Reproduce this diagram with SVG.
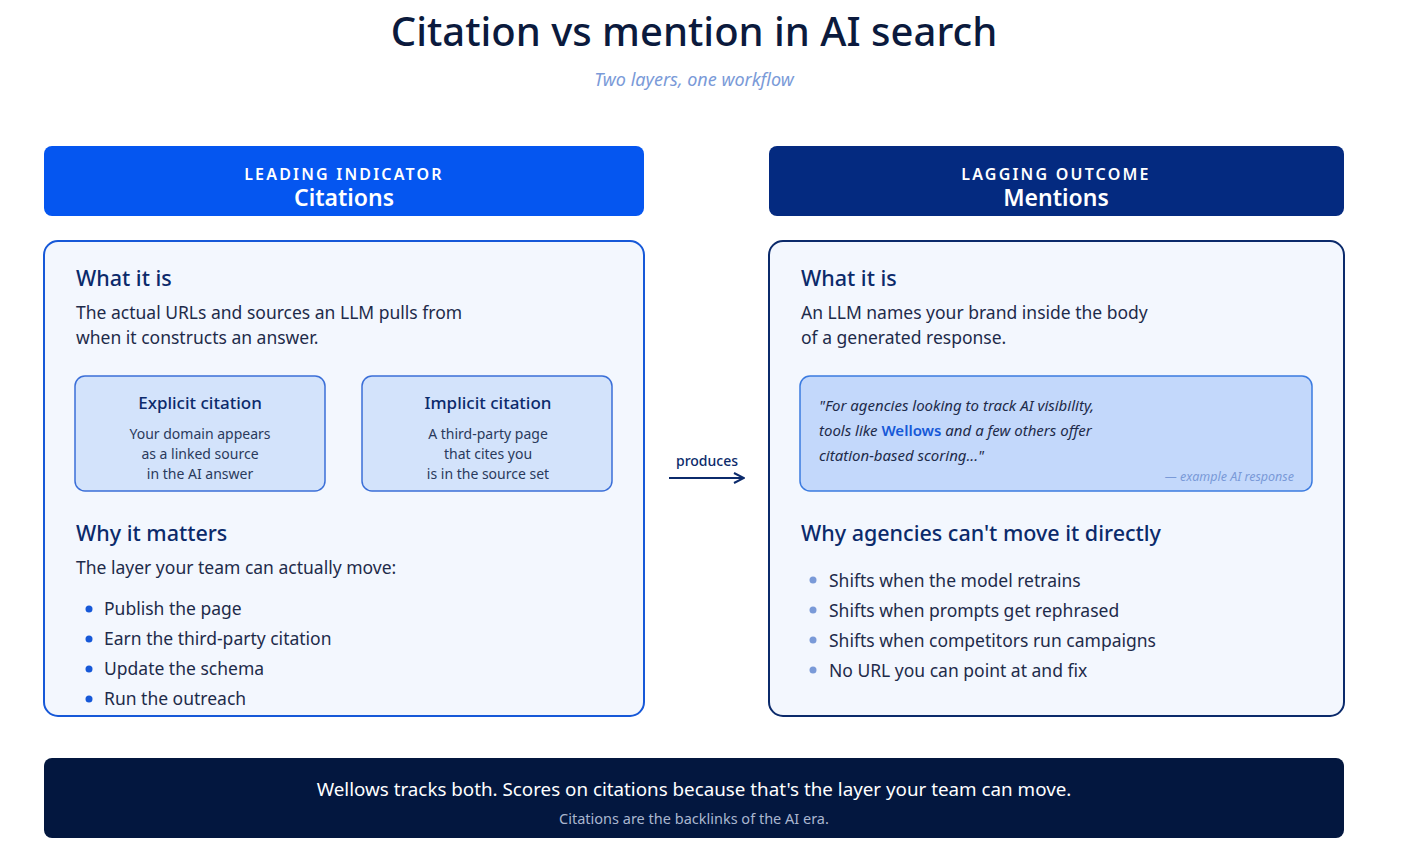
<svg xmlns="http://www.w3.org/2000/svg" width="1422" height="852" viewBox="0 0 1422 852">
<style>
text{font-family:"Noto Sans","Open Sans","Liberation Sans",sans-serif}
.hd{fill:#fff;text-anchor:middle}
.cap{font-size:16px;letter-spacing:2.2px;font-weight:600}
.big{font-size:23px;font-weight:600}
.card{fill:#f3f7fe;stroke-width:2}
.h2{font-size:21.5px;font-weight:500;fill:#0b2a6b}
.body{font-size:17.5px;fill:#1e2b4a}
.sub{fill:#d3e3fb;stroke:#3b6fd8;stroke-width:1.5}
.st{font-size:17px;font-weight:500;fill:#0b2a6b;text-anchor:middle}
.sd{font-size:14px;fill:#2a3a5c;text-anchor:middle}
.q{font-size:15px;font-style:italic;fill:#1e2b4a}
</style>
<defs><marker id="ar" viewBox="0 0 12 12" refX="11" refY="6" markerWidth="12" markerHeight="12" markerUnits="userSpaceOnUse" orient="auto"><path d="M1 1 L11 6 L1 11" fill="none" stroke="#0b2a6b" stroke-width="2"/></marker></defs>
<rect width="1422" height="852" fill="#fff"/>
<text x="694" y="46" text-anchor="middle" font-size="40" font-weight="500" fill="#0b1a3d">Citation vs mention in AI search</text>
<text x="694" y="86" text-anchor="middle" font-size="18" font-style="italic" fill="#7a9ad8">Two layers, one workflow</text>

<g id="head-left"><rect x="44" y="146" width="600" height="70" rx="8" fill="#0556f0"/>
<text x="344" y="180" class="hd cap">LEADING INDICATOR</text><text x="344" y="206" class="hd big">Citations</text></g>
<g id="head-right"><rect x="769" y="146" width="575" height="70" rx="8" fill="#042a80"/>
<text x="1056" y="180" class="hd cap">LAGGING OUTCOME</text><text x="1056" y="206" class="hd big">Mentions</text></g>

<g id="card-left"><rect x="44" y="241" width="600" height="475" rx="14" class="card" stroke="#1658d8"/>
<text x="76" y="286" class="h2">What it is</text>
<text x="76" y="319" class="body">The actual URLs and sources an LLM pulls from</text>
<text x="76" y="344" class="body">when it constructs an answer.</text>
<g id="explicit"><rect x="75" y="376" width="250" height="115" rx="10" class="sub"/>
<text x="200" y="409" class="st">Explicit citation</text>
<text x="200" y="439" class="sd">Your domain appears</text><text x="200" y="459" class="sd">as a linked source</text><text x="200" y="479" class="sd">in the AI answer</text></g>
<g id="implicit"><rect x="362" y="376" width="250" height="115" rx="10" class="sub"/>
<text x="488" y="409" class="st">Implicit citation</text>
<text x="488" y="439" class="sd">A third-party page</text><text x="488" y="459" class="sd">that cites you</text><text x="488" y="479" class="sd">is in the source set</text></g>
<text x="76" y="541" class="h2">Why it matters</text>
<text x="76" y="574" class="body">The layer your team can actually move:</text>
<g fill="#1658d8"><circle cx="89" cy="609" r="3.5"/><circle cx="89" cy="639" r="3.5"/><circle cx="89" cy="669" r="3.5"/><circle cx="89" cy="699" r="3.5"/></g>
<text x="104" y="615" class="body">Publish the page</text>
<text x="104" y="645" class="body">Earn the third-party citation</text>
<text x="104" y="675" class="body">Update the schema</text>
<text x="104" y="705" class="body">Run the outreach</text></g>

<g id="card-right"><rect x="769" y="241" width="575" height="475" rx="14" class="card" stroke="#0b2a6b"/>
<text x="801" y="286" class="h2">What it is</text>
<text x="801" y="319" class="body">An LLM names your brand inside the body</text>
<text x="801" y="344" class="body">of a generated response.</text>
<g id="quote"><rect x="800" y="376" width="512" height="115" rx="10" fill="#c3d8fb" stroke="#3b7be0" stroke-width="1.5"/>
<text x="819" y="411" class="q">"For agencies looking to track AI visibility,</text>
<text x="819" y="436" class="q">tools like <tspan font-style="normal" font-weight="600" fill="#1658d8">Wellows</tspan> and a few others offer</text>
<text x="819" y="461" class="q">citation-based scoring..."</text>
<text x="1294" y="481" text-anchor="end" font-size="12.5" font-style="italic" fill="#7a9ad8">— example AI response</text></g>
<text x="801" y="541" class="h2">Why agencies can't move it directly</text>
<g fill="#7a9ad8"><circle cx="813" cy="580" r="3.5"/><circle cx="813" cy="610" r="3.5"/><circle cx="813" cy="640" r="3.5"/><circle cx="813" cy="670" r="3.5"/></g>
<text x="829" y="587" class="body">Shifts when the model retrains</text>
<text x="829" y="617" class="body">Shifts when prompts get rephrased</text>
<text x="829" y="647" class="body">Shifts when competitors run campaigns</text>
<text x="829" y="677" class="body">No URL you can point at and fix</text></g>

<g id="connectors"><line x1="669" y1="478" x2="744" y2="478" stroke="#0b2a6b" stroke-width="2" marker-end="url(#ar)"/>
<text x="707" y="466" text-anchor="middle" font-size="14" font-weight="500" fill="#0b2a6b">produces</text></g>

<g id="footer"><rect x="44" y="758" width="1300" height="80" rx="8" fill="#03173f"/>
<text x="694" y="796" text-anchor="middle" font-size="18.8" fill="#fff">Wellows tracks both. Scores on citations because that's the layer your team can move.</text>
<text x="694" y="824" text-anchor="middle" font-size="14.5" fill="#a9b6cf">Citations are the backlinks of the AI era.</text></g>
</svg>
